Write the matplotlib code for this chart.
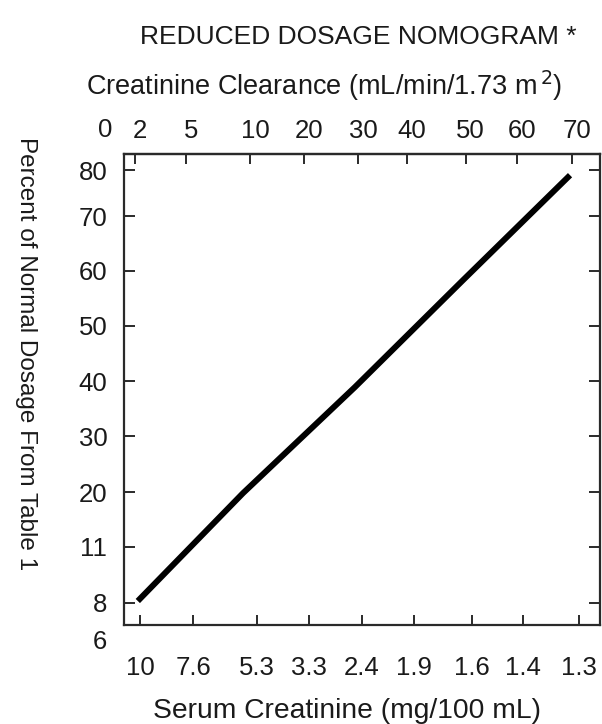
import matplotlib
matplotlib.use("Agg")
import matplotlib.pyplot as plt
import matplotlib.transforms as mtransforms

plt.rcParams['font.family'] = ['Liberation Sans', 'DejaVu Sans']

# Nomogram scale positions (0-100 units along each axis) and their labels
bottom_tick_pos = [3.4, 14.5, 27.9, 38.9, 50.0, 60.9, 73.1, 83.8, 95.6]
bottom_tick_labels = ["10", "7.6", "5.3", "3.3", "2.4", "1.9", "1.6", "1.4", "1.3"]

top_tick_pos = [2.3, 13.0, 26.5, 37.8, 49.2, 59.5, 71.8, 82.6, 94.1]
top_tick_labels = ["2", "5", "10", "20", "30", "40", "50", "60", "70"]
top_extra_pos = -4.0
top_extra_label = "0"

left_tick_pos = [4.7, 16.6, 28.2, 40.1, 51.8, 63.5, 75.2, 86.8, 96.6]
left_tick_labels = ["8", "11", "20", "30", "40", "50", "60", "70", "80"]
left_extra_pos = -3.6
left_extra_label = "6"

# Dosage line through the nomogram (positions in scale units)
line_x = [2.9, 25.0, 48.5, 71.2, 93.7]
line_y = [5.1, 28.0, 50.5, 73.2, 95.5]

fig = plt.figure(figsize=(6.02, 7.24), dpi=100)
ax = fig.add_axes([0.206, 0.1367, 0.7907, 0.6506])
ax.set_xlim(0, 100)
ax.set_ylim(0, 100)

ax.plot(line_x, line_y, color='black', lw=4.3, solid_capstyle='butt')

spine_color = '#2a2a2a'
text_color = '#1a1a1a'
for s in ax.spines.values():
    s.set_linewidth(1.6)
    s.set_color(spine_color)

fs = 18.5
ax.set_xticks(bottom_tick_pos)
ax.set_xticklabels(bottom_tick_labels, fontsize=fs, color=text_color)
ax.set_yticks(left_tick_pos)
ax.set_yticklabels(left_tick_labels, fontsize=fs, color=text_color)
ax.tick_params(axis='x', direction='in', length=7, width=1.4, color=spine_color, pad=22)
ax.tick_params(axis='y', direction='in', length=8, width=1.4, color=spine_color, pad=12,
               right=True)

secx = ax.secondary_xaxis('top')
secx.set_xticks(top_tick_pos)
secx.set_xticklabels(top_tick_labels, fontsize=fs, color=text_color)
secx.tick_params(direction='in', length=7, width=1.4, color=spine_color, pad=8)
secx.spines['top'].set_linewidth(1.6)
secx.spines['top'].set_color(spine_color)
shift = mtransforms.ScaledTranslation(5 / 100, 0, fig.dpi_scale_trans)
for lab in secx.get_xticklabels():
    lab.set_transform(lab.get_transform() + shift)

# Extra out-of-frame labels
trx = mtransforms.blended_transform_factory(ax.transData, ax.transAxes)
ax.text(top_extra_pos, 1.0, top_extra_label, fontsize=fs, color=text_color,
        ha='center', va='bottom',
        transform=mtransforms.offset_copy(trx, fig=fig, y=8.5, units='points'))
ax.text(0.0, left_extra_pos, left_extra_label, fontsize=fs, color=text_color,
        ha='right', va='center',
        transform=mtransforms.offset_copy(ax.transData, fig=fig, x=-12.5, units='points'))

fig.text(0.596, 0.949, "REDUCED DOSAGE NOMOGRAM *", ha='center', va='center',
         fontsize=19, color=text_color)
fig.text(0.538, 0.882, "Creatinine Clearance (mL/min/1.73 m$^{\\,2}$)", ha='center', va='center',
         fontsize=19.5, color=text_color)
fig.text(0.5756, 0.018, "Serum Creatinine (mg/100 mL)", ha='center', va='center',
         fontsize=20.3, color=text_color)
fig.text(0.043, 0.512, "Percent of Normal Dosage From Table 1", ha='center', va='center',
         rotation=-90, fontsize=17.5, color=text_color)

fig.savefig("out.png", dpi=100)
